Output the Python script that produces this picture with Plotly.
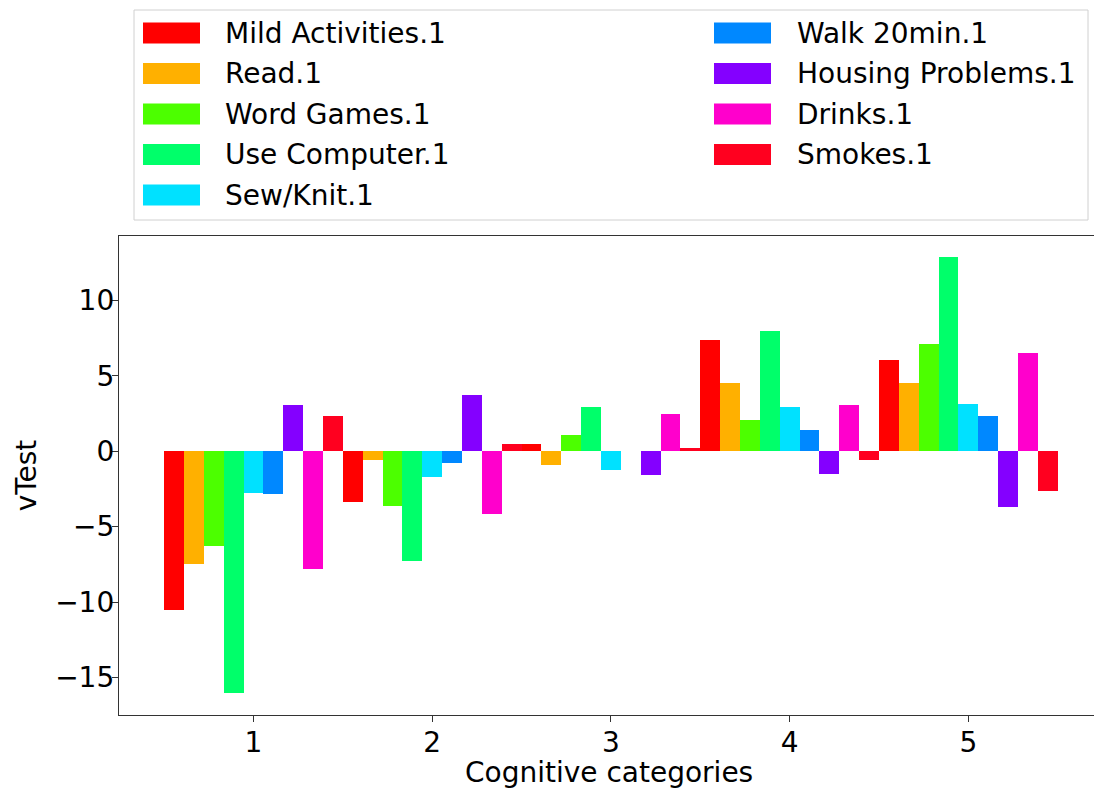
import plotly.graph_objects as go

# ---- data ----
categories = [1, 2, 3, 4, 5]
series_names = ["Mild Activities.1", "Read.1", "Word Games.1", "Use Computer.1",
                "Sew/Knit.1", "Walk 20min.1", "Housing Problems.1", "Drinks.1", "Smokes.1"]
mild_activities = [-10.5, -3.35, 0.45, 7.35, 6.05]
read = [-7.45, -0.55, -0.9, 4.55, 4.55]
word_games = [-6.3, -3.6, 1.05, 2.1, 7.1]
use_computer = [-16.0, -7.3, 2.9, 7.95, 12.85]
sew_knit = [-2.75, -1.7, -1.25, 2.9, 3.15]
walk_20min = [-2.85, -0.8, 0.0, 1.4, 2.3]
housing_problems = [3.05, 3.75, -1.6, -1.5, -3.7]
drinks = [-7.8, -4.15, 2.45, 3.05, 6.5]
smokes = [2.35, 0.45, 0.2, -0.6, -2.65]
y_ticks = [-15, -10, -5, 0, 5, 10]

series_values = [mild_activities, read, word_games, use_computer, sew_knit,
                 walk_20min, housing_problems, drinks, smokes]
colors = ["#ff0000", "#ffb000", "#4cff00", "#00ff6a", "#00e1ff",
          "#0088ff", "#8400ff", "#ff00cc", "#ff001f"]

FONT = "DejaVu Sans"
FS = 28

# figure is a little wider than the 1094 px window; the right spine falls outside, as in the reference
W, H = 1104, 789
L, R, T, B = 119, 0, 236, 789 - 715
PW, PH = W - L - R, H - T - B
X_UNIT = 178.7          # pixels per category step
X0_PX = 253.5           # pixel of category 1
x_range = [1 - (X0_PX - L) / X_UNIT, 1 + (W - X0_PX) / X_UNIT]


def fx(px):
    return (px - L) / PW


def fy(py):
    return (H - B - py) / PH


fig = go.Figure()
for name, vals, col in zip(series_names, series_values, colors):
    fig.add_trace(go.Bar(x=categories, y=vals, name=name,
                         marker=dict(color=col, line=dict(width=0)),
                         showlegend=False))

# legend (two columns inside one frame, like the reference)
shapes = [dict(type="rect", xref="paper", yref="paper",
               x0=fx(134), x1=fx(1088), y0=fy(220), y1=fy(10),
               line=dict(color="#d0d0d0", width=1), fillcolor="rgba(255,255,255,0.8)",
               layer="above")]
annotations = []
row_y = [33, 73.5, 114, 154.5, 195]
for i, (name, col) in enumerate(zip(series_names, colors)):
    colidx, row = divmod(i, 5)
    px0 = 143 if colidx == 0 else 714
    tx = 223 if colidx == 0 else 795
    cy = row_y[row]
    shapes.append(dict(type="rect", xref="paper", yref="paper",
                       x0=fx(px0), x1=fx(px0 + 57), y0=fy(cy + 10.5), y1=fy(cy - 10.5),
                       line=dict(width=0), fillcolor=col, layer="above"))
    annotations.append(dict(text=name, xref="paper", yref="paper",
                            x=fx(tx), y=fy(cy), xanchor="left", yanchor="middle",
                            showarrow=False, font=dict(family=FONT, size=FS, color="#000000")))

# x axis title
annotations.append(dict(text="Cognitive categories", xref="paper", yref="paper",
                        x=fx(609), y=fy(772), xanchor="center", yanchor="middle",
                        showarrow=False, font=dict(family=FONT, size=FS, color="#000000")))

fig.update_layout(
    width=W, height=H,
    margin=dict(l=L, r=R, t=T, b=B, pad=0, autoexpand=False),
    paper_bgcolor="white", plot_bgcolor="white",
    barmode="group", bargap=0, bargroupgap=0,
    font=dict(family=FONT, size=FS, color="#000000"),
    shapes=shapes, annotations=annotations,
    showlegend=False,
    xaxis=dict(range=x_range, tickvals=categories, ticktext=[str(c) for c in categories],
               ticks="outside", ticklen=6, tickwidth=1.3, tickcolor="#333333",
               showline=True, linecolor="#333333", linewidth=1.3, mirror=True,
               showgrid=False, zeroline=False, automargin=False,
               ticklabelstandoff=-4,
               tickfont=dict(family=FONT, size=FS)),
    yaxis=dict(range=[-17.48, 14.26], tickvals=y_ticks,
               ticks="outside", ticklen=6, tickwidth=1.3, tickcolor="#333333",
               showline=True, linecolor="#333333", linewidth=1.3, mirror=False,
               showgrid=False, zeroline=False, automargin=False,
               ticklabelstandoff=-8,
               title=dict(text="vTest", font=dict(family=FONT, size=FS), standoff=10),
               tickfont=dict(family=FONT, size=FS)),
)

fig.write_html("out.html",
               config={"displayModeBar": False},
               post_script="document.body.style.margin='0';document.body.style.overflow='hidden';")
